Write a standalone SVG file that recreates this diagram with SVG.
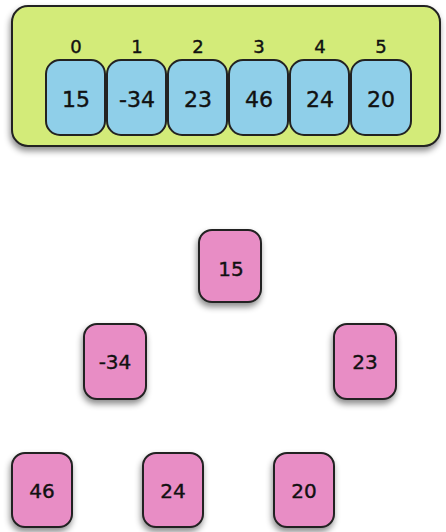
<svg xmlns="http://www.w3.org/2000/svg" width="446" height="532" viewBox="0 0 446 532">
<defs>
<filter id="sh" x="-20%" y="-20%" width="150%" height="150%">
<feDropShadow dx="-1" dy="4" stdDeviation="3" flood-color="#000" flood-opacity="0.45"/>
</filter>
<style>
.arr{fill:#d3eb79;stroke:#222;stroke-width:2}
.cell{fill:#8fcfe9;stroke:#222;stroke-width:2}
.node{fill:#e88dc5;stroke:#222;stroke-width:2}
text{font-family:"DejaVu Sans","Liberation Sans",sans-serif;font-size:20px;fill:#111;stroke:#111;stroke-width:0.4;text-anchor:middle}
.big{font-size:22px}
.idx{font-size:18px}
</style>
</defs>
<g id="array">
<rect class="arr" x="12" y="6" width="428" height="140" rx="16" filter="url(#sh)"/>
<text class="idx" x="76" y="53">0</text>
<text class="idx" x="137" y="53">1</text>
<text class="idx" x="198" y="53">2</text>
<text class="idx" x="259" y="53">3</text>
<text class="idx" x="320" y="53">4</text>
<text class="idx" x="381" y="53">5</text>
<g id="cell0"><rect class="cell" x="46" y="60" width="59" height="75" rx="14"/><text class="big" x="76" y="107">15</text></g>
<g id="cell1"><rect class="cell" x="107" y="60" width="59" height="75" rx="14"/><text class="big" x="137" y="107">-34</text></g>
<g id="cell2"><rect class="cell" x="168" y="60" width="59" height="75" rx="14"/><text class="big" x="198" y="107">23</text></g>
<g id="cell3"><rect class="cell" x="229" y="60" width="59" height="75" rx="14"/><text class="big" x="259" y="107">46</text></g>
<g id="cell4"><rect class="cell" x="290" y="60" width="59" height="75" rx="14"/><text class="big" x="320" y="107">24</text></g>
<g id="cell5"><rect class="cell" x="351" y="60" width="60" height="75" rx="14"/><text class="big" x="381" y="107">20</text></g>
</g>
<g id="connectors"></g>
<g id="n15"><rect class="node" x="199" y="230" width="62" height="72" rx="13" filter="url(#sh)"/><text x="231" y="276">15</text></g>
<g id="n-34"><rect class="node" x="84" y="324" width="62" height="75" rx="13" filter="url(#sh)"/><text x="115" y="369">-34</text></g>
<g id="n23"><rect class="node" x="334" y="324" width="62" height="75" rx="13" filter="url(#sh)"/><text x="365" y="369">23</text></g>
<g id="n46"><rect class="node" x="12" y="453" width="60" height="74" rx="13" filter="url(#sh)"/><text x="42" y="498">46</text></g>
<g id="n24"><rect class="node" x="143" y="453" width="60" height="74" rx="13" filter="url(#sh)"/><text x="173" y="498">24</text></g>
<g id="n20"><rect class="node" x="274" y="453" width="60" height="74" rx="13" filter="url(#sh)"/><text x="304" y="498">20</text></g>
</svg>
